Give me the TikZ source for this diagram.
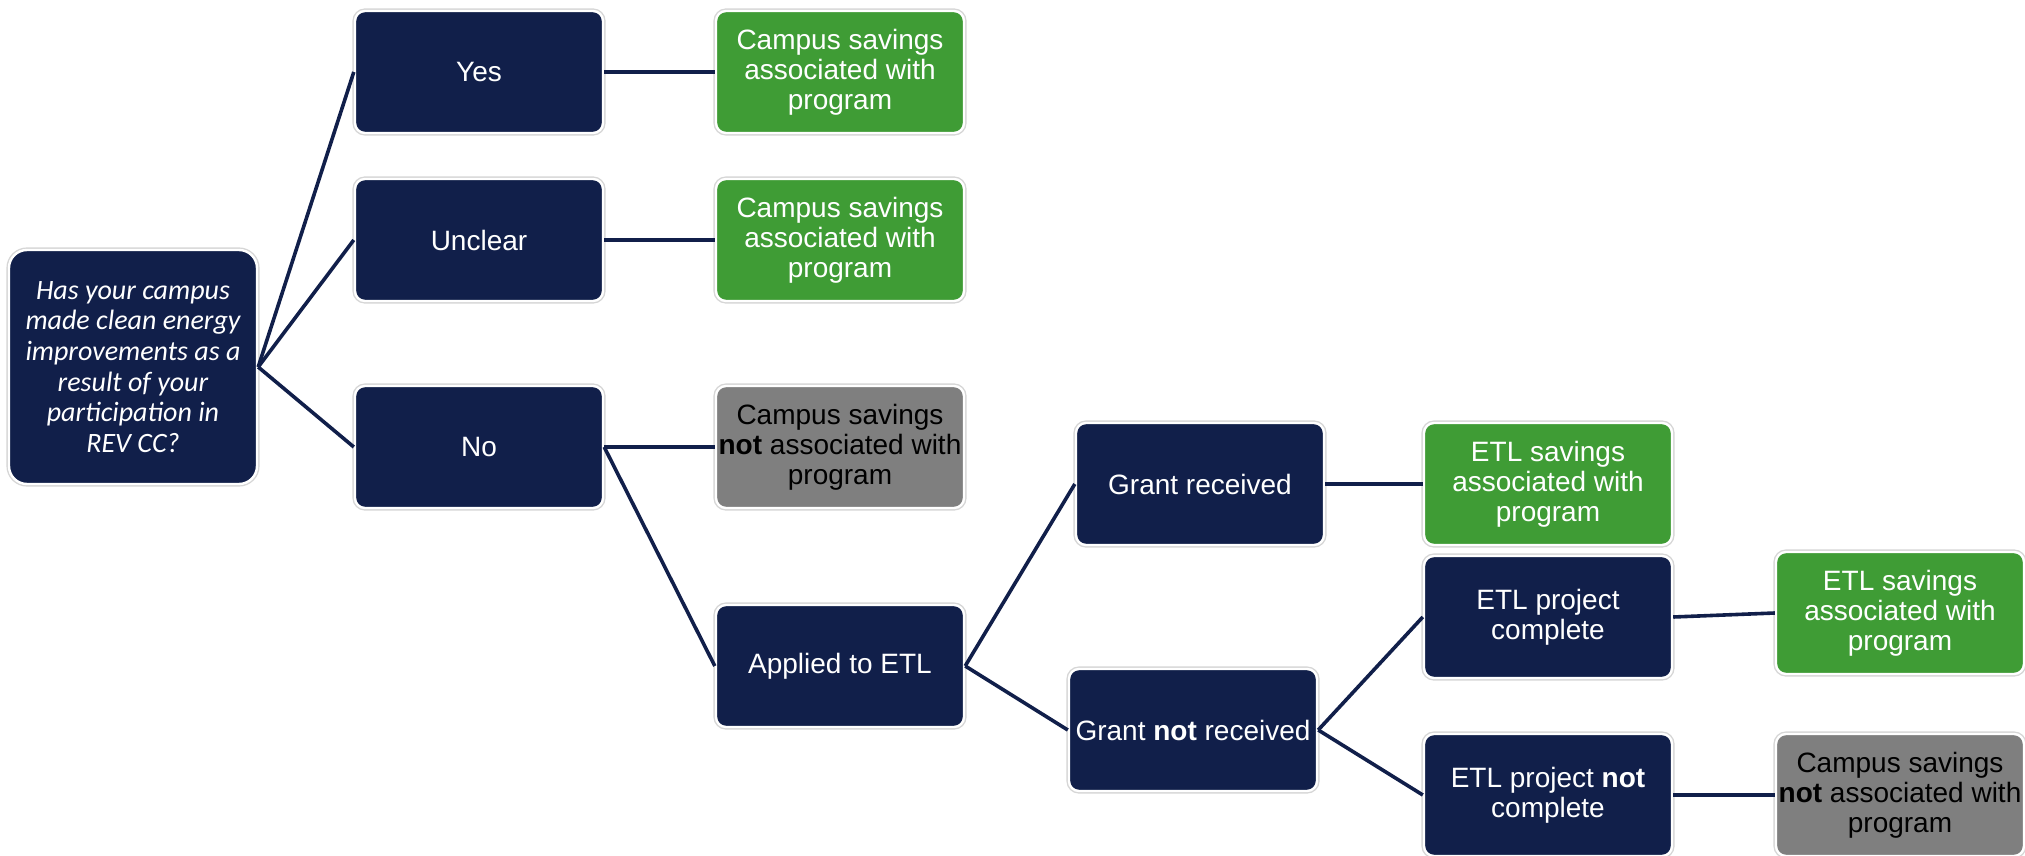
\documentclass[tikz,border=0pt]{standalone}
\usepackage{fontspec}
\setmainfont{Liberation Sans}
\newfontfamily\qfont{Carlito}
\definecolor{navy}{HTML}{111F4A}
\definecolor{leaf}{HTML}{3F9C35}
\definecolor{ash}{HTML}{7F7F7F}

\begin{document}
\begin{tikzpicture}[x=0.5pt, y=-0.5pt,
  box/.style={rectangle, rounded corners=5pt, draw=white, line width=1.2pt,
    preaction={draw=black!16, line width=2.6pt},
    minimum width=124pt, minimum height=61pt, inner sep=1pt, align=center,
    font=\fontsize{14}{15}\selectfont},
  ask/.style={box, fill=navy, text=white},
  keep/.style={box, fill=leaf, text=white},
  drop/.style={box, fill=ash, text=black},
  link/.style={draw=navy, line width=1.8pt}]
\useasboundingbox (0,0) rectangle (2025,856);

\node[ask, rounded corners=9pt, minimum height=117pt, font=\qfont\itshape\fontsize{14}{15.3}\selectfont] (q) at (133,367)
  {Has your campus\\made clean energy\\improvements as a\\result of your\\participation in\\REV CC?};

\node[ask] (yes) at (479,72) {Yes};
\node[ask] (unclear) at (479,240) {Unclear};
\node[ask] (no) at (479,447) {No};

\node[keep] (c1) at (840,72) {Campus savings\\associated with\\program};
\node[keep] (c2) at (840,240) {Campus savings\\associated with\\program};
\node[drop] (c3) at (840,447) {Campus savings\\\textbf{not} associated with\\program};
\node[ask] (applied) at (840,666) {Applied to ETL};

\node[ask] (grant) at (1200,484) {Grant received};
\node[ask] (nogrant) at (1193,730) {Grant \textbf{not} received};

\node[keep] (e1) at (1548,484) {ETL savings\\associated with\\program};
\node[ask] (done) at (1548,617) {ETL project\\complete};
\node[ask] (notdone) at (1548,795) {ETL project \textbf{not}\\complete};

\node[keep] (e2) at (1900,613) {ETL savings\\associated with\\program};
\node[drop] (c4) at (1900,795) {Campus savings\\\textbf{not} associated with\\program};

\draw[link] (q.east) -- (yes.west);
\draw[link] (q.east) -- (unclear.west);
\draw[link] (q.east) -- (no.west);
\draw[link] (yes.east) -- (c1.west);
\draw[link] (unclear.east) -- (c2.west);
\draw[link] (no.east) -- (c3.west);
\draw[link] (no.east) -- (applied.west);
\draw[link] (applied.east) -- (grant.west);
\draw[link] (applied.east) -- (nogrant.west);
\draw[link] (grant.east) -- (e1.west);
\draw[link] (nogrant.east) -- (done.west);
\draw[link] (nogrant.east) -- (notdone.west);
\draw[link] (done.east) -- (e2.west);
\draw[link] (notdone.east) -- (c4.west);
\end{tikzpicture}
\end{document}
